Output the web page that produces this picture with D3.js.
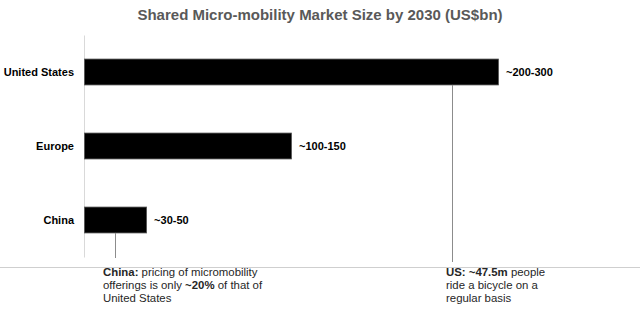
<!DOCTYPE html>
<html>
<head>
<meta charset="utf-8">
<script src="https://cdn.jsdelivr.net/npm/d3@7"></script>
<style>
  html, body { margin: 0; padding: 0; background: #fff; }
  svg { display: block; font-family: Arial, "Liberation Sans", sans-serif; }
</style>
</head>
<body>
<svg id="chart" width="640" height="329"></svg>
<script>
// market size by 2030, US$bn
const regions = ["United States", "Europe", "China"];
const sizes = [250, 125, 37.5];
const sizeLabels = ["~200-300", "~100-150", "~30-50"];

// footnotes, one array of lines each, [text, bold] segments
const chinaNote = [
  [["China:", true], [" pricing of micromobility", false]],
  [["offerings is only ", false], ["~20%", true], [" of that of", false]],
  [["United States", false]]
];
const usNote = [
  [["US: ~47.5m", true], [" people", false]],
  [["ride a bicycle on a", false]],
  [["regular basis", false]]
];

const width = 640, height = 329;
const svg = d3.select("#chart");

const x = d3.scaleLinear()
  .domain([0, 250])
  .range([84, 498]);

const y = d3.scaleBand()
  .domain(regions)
  .range([35, 257])
  .paddingInner(0.65)
  .paddingOuter(0.325);

// title
svg.append("text")
  .attr("x", width / 2)
  .attr("y", 20)
  .attr("text-anchor", "middle")
  .attr("font-size", 15)
  .attr("font-weight", "bold")
  .attr("fill", "#595959")
  .text("Shared Micro-mobility Market Size by 2030 (US$bn)");

// category axis
const yAxis = svg.append("g")
  .attr("transform", "translate(" + x(0) + ",0)")
  .call(d3.axisLeft(y).tickSize(0).tickPadding(10));
yAxis.select(".domain").attr("stroke", "#d9d9d9");
yAxis.selectAll("text")
  .attr("font-size", 11)
  .attr("font-weight", "bold")
  .attr("fill", "#000")
  .attr("font-family", "Arial, 'Liberation Sans', sans-serif");

// bars
svg.append("g")
  .selectAll("rect")
  .data(regions)
  .join("rect")
  .attr("x", x(0) + 0.5)
  .attr("y", d => y(d))
  .attr("width", (d, i) => x(sizes[i]) - x(0))
  .attr("height", y.bandwidth())
  .attr("fill", "#000")
  .attr("stroke", "#555")
  .attr("stroke-width", 0.8);

// value labels
svg.append("g")
  .selectAll("text")
  .data(regions)
  .join("text")
  .attr("x", (d, i) => x(sizes[i]) + 8)
  .attr("y", d => y(d) + y.bandwidth() / 2)
  .attr("dy", "0.4em")
  .attr("font-size", 11)
  .attr("font-weight", "bold")
  .attr("fill", "#000")
  .text((d, i) => sizeLabels[i]);

// separator above the footnotes
svg.append("line")
  .attr("x1", 0)
  .attr("x2", width)
  .attr("y1", 267.5)
  .attr("y2", 267.5)
  .attr("stroke", "#cfcfcf");

// callout lines from the bars down to the notes
const callouts = [
  { region: "China", at: x(19), end: 258, textX: 103, lines: chinaNote },
  { region: "United States", at: x(222), end: 262, textX: 446, lines: usNote }
];

callouts.forEach(c => {
  svg.append("line")
    .attr("x1", Math.round(c.at) + 0.5)
    .attr("x2", Math.round(c.at) + 0.5)
    .attr("y1", y(c.region) + y.bandwidth())
    .attr("y2", c.end)
    .attr("stroke", "#8c8c8c");

  const t = svg.append("text")
    .attr("font-size", 11.4)
    .attr("fill", "#262626");

  c.lines.forEach((segs, li) => {
    segs.forEach((s, si) => {
      const span = t.append("tspan")
        .attr("font-weight", s[1] ? "bold" : "normal")
        .text(s[0]);
      if (si === 0) span.attr("x", c.textX).attr("y", 276 + li * 13);
    });
  });
});
</script>
</body>
</html>
